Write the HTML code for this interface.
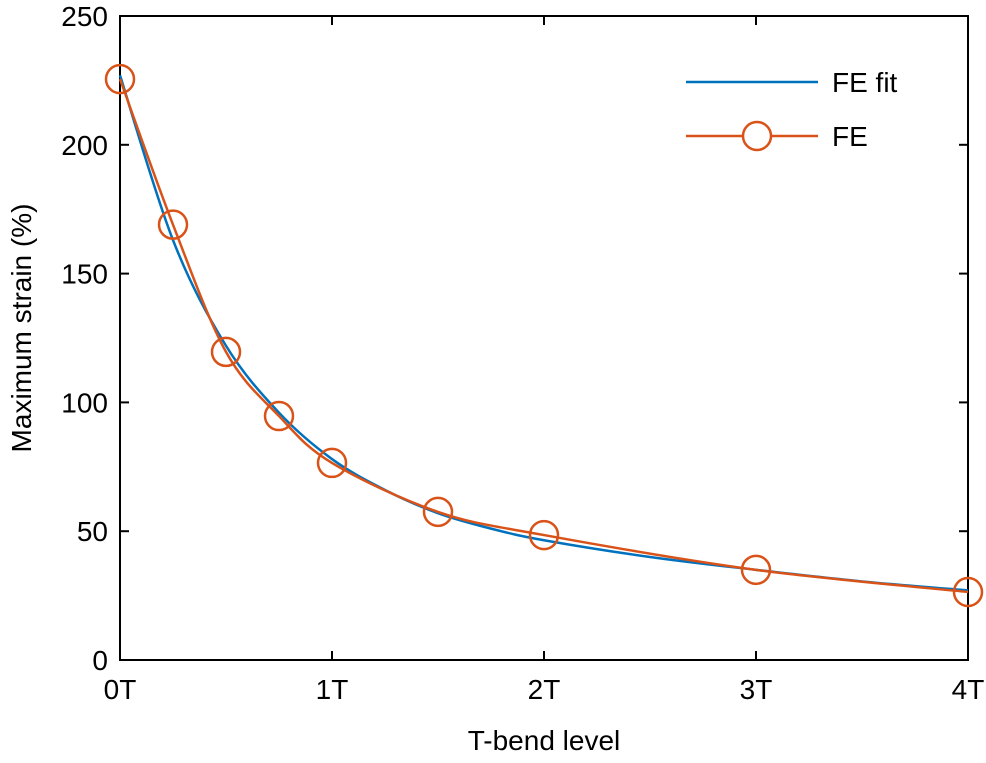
<!DOCTYPE html>
<html><head><meta charset="utf-8"><style>
html,body{margin:0;padding:0;background:#fff;}
svg text{font-family:"Liberation Sans",sans-serif;fill:#000;}
</style></head><body>
<svg id="chart" width="986" height="758" viewBox="0 0 986 758" xmlns="http://www.w3.org/2000/svg">
<g id="plot"></g>
</svg>
<script>
const feX = [0, 0.25, 0.5, 0.75, 1, 1.5, 2, 3, 4];
const feY = [225.5, 169, 119.6, 94.7, 76.5, 57.5, 48.5, 35, 26.4];
const fitX = [0, 0.25, 0.5, 0.75, 1, 1.25, 1.5, 1.75, 2, 2.5, 3, 3.5, 4];
const fitY = [227, 163, 122, 96, 78, 66, 57, 51, 46.5, 40, 35, 30.5, 27];
const yTicks = [0, 50, 100, 150, 200, 250];
const xTicks = [0, 1, 2, 3, 4];
const xTickLabels = ["0T", "1T", "2T", "3T", "4T"];

const L=120,R=968,T=16,B=660;
const sx=v=>L+(R-L)*v/4;
const sy=v=>B-(B-T)*v/250;
const NS="http://www.w3.org/2000/svg";
const g=document.getElementById('plot');
function mk(tag,attrs,parent){const e=document.createElementNS(NS,tag);for(const k in attrs)e.setAttribute(k,attrs[k]);(parent||g).appendChild(e);return e;}

const box=mk('rect',{x:L,y:T,width:R-L,height:B-T,fill:'none',stroke:'#000','stroke-width':2});



yTicks.forEach(v=>{
  const y=sy(v);
  const t1=mk('line',{x1:L,x2:L+9,y1:y,y2:y,stroke:'#000','stroke-width':2});
  
  
  const t2=mk('line',{x1:R-9,x2:R,y1:y,y2:y,stroke:'#000','stroke-width':2});
  
  
  const lb=mk('text',{x:L-12,y:y+10,'text-anchor':'end','font-size':28});
  lb.textContent=v;
  
  
});
xTicks.forEach((v,i)=>{
  const x=sx(v);
  const t1=mk('line',{x1:x,x2:x,y1:B,y2:B-9,stroke:'#000','stroke-width':2});
  
  
  const t2=mk('line',{x1:x,x2:x,y1:T,y2:T+9,stroke:'#000','stroke-width':2});
  
  
  const lb=mk('text',{x:x,y:B+39,'text-anchor':'middle','font-size':28});
  lb.textContent=xTickLabels[i];
  
  
});
const xt=mk('text',{x:(L+R)/2,y:750,'text-anchor':'middle','font-size':28});
xt.textContent='T-bend level';


const yt=mk('text',{x:0,y:0,'text-anchor':'middle','font-size':28,transform:`translate(31,${(T+B)/2-10}) rotate(-90)`});
yt.textContent='Maximum strain (%)';



function smooth(xs,ys){
  const p=xs.map((x,i)=>[sx(x),sy(ys[i])]);
  let d=`M${p[0][0]},${p[0][1]}`;
  for(let i=0;i<p.length-1;i++){
    const p0=p[i-1]||p[i],p1=p[i],p2=p[i+1],p3=p[i+2]||p[i+1];
    const c1=[p1[0]+(p2[0]-p0[0])/6,p1[1]+(p2[1]-p0[1])/6];
    const c2=[p2[0]-(p3[0]-p1[0])/6,p2[1]-(p3[1]-p1[1])/6];
    d+=` C${c1[0]},${c1[1]} ${c2[0]},${c2[1]} ${p2[0]},${p2[1]}`;
  }
  return d;
}
const fit=mk('path',{d:smooth(fitX,fitY),fill:'none',stroke:'#0072BD','stroke-width':2.5});


const fe=mk('path',{d:smooth(feX,feY),fill:'none',stroke:'#D95319','stroke-width':2.5});


feX.forEach((x,i)=>{
  const c=mk('circle',{cx:sx(x),cy:sy(feY[i]),r:14,fill:'none',stroke:'#D95319','stroke-width':2.5});
  
  
});

const lg=mk('g',{});


const l1=mk('line',{x1:686,x2:818,y1:82,y2:82,stroke:'#0072BD','stroke-width':2.5},lg);


const tx1=mk('text',{x:832,y:92,'font-size':28},lg);
tx1.textContent='FE fit';


const l2=mk('line',{x1:686,x2:818,y1:136,y2:136,stroke:'#D95319','stroke-width':2.5},lg);


const lc=mk('circle',{cx:757,cy:136,r:14,fill:'#fff',stroke:'#D95319','stroke-width':2.5},lg);


const tx2=mk('text',{x:832,y:146,'font-size':28},lg);
tx2.textContent='FE';


</script>
</body></html>
